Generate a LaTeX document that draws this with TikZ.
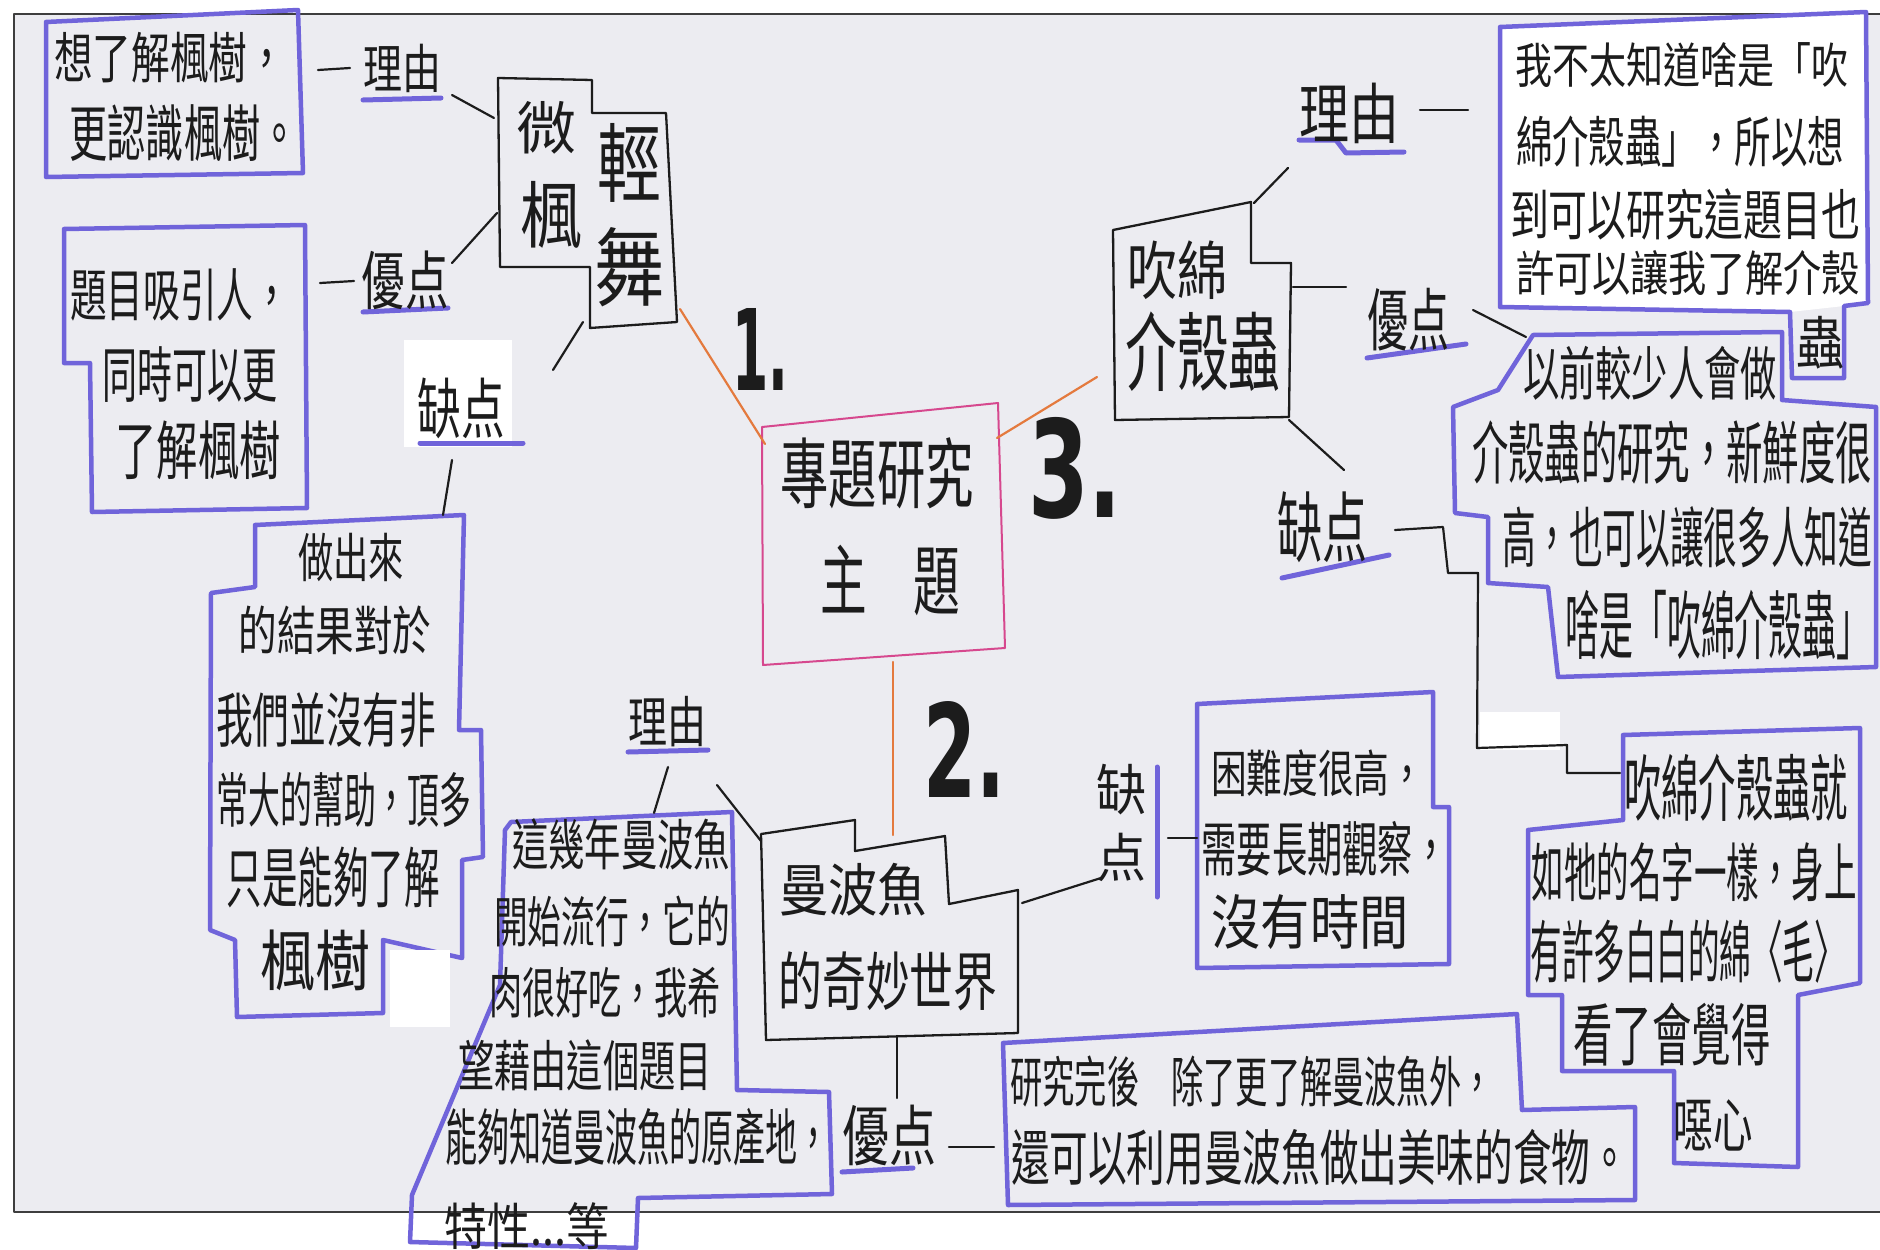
\documentclass[tikz,border=0pt]{standalone}
\usepackage{fontspec}
\newfontfamily\cjk{Noto Sans CJK TC}
\newfontfamily\numf{DejaVu Sans}
\definecolor{bgc}{RGB}{236,236,241}
\definecolor{bluem}{RGB}{112,100,218}
\definecolor{ink}{RGB}{28,28,28}
\definecolor{orng}{RGB}{228,122,62}
\definecolor{pnk}{RGB}{214,72,142}
\newlength\hwh
\newcommand\hw[3]{\setlength\hwh{#2pt}\resizebox*{#1pt}{1.1\hwh}{\fontsize{50pt}{50pt}\selectfont\cjk\rule[-0.12em]{0pt}{1em}#3}}
\newcommand\nm[3]{\resizebox*{#1pt}{#2pt}{\fontsize{60pt}{60pt}\selectfont\numf\bfseries #3}}
\begin{document}
\begin{tikzpicture}[x=1pt,y=-1pt,line join=round,line cap=round,
  blk/.style={draw=ink,line width=2.3pt},
  blu/.style={draw=bluem,line width=4.5pt},
  con/.style={draw=ink,line width=2.2pt},
  ora/.style={draw=orng,line width=2.2pt},
  und/.style={draw=bluem,line width=5pt},
  txt/.style={inner sep=0pt,text=ink}]
\useasboundingbox (0,0) rectangle (1880,1250);
\fill[white] (0,0) rectangle (1880,1250);
\fill[bgc] (14,14) rectangle (1880,1212);
\draw[draw=ink!85,line width=2.5pt] (1880,14) -- (14,14) -- (14,1212) -- (1880,1212);
% white patches
\fill[white] (404,340) rectangle (512,447);
\fill[white] (1480,712) rectangle (1560,750);
\fill[white] (1500,27) -- (1866,12) -- (1868,303) -- (1844,306) -- (1790,312) -- (1500,307) -- cycle;
% blue boxes
\draw[blu] (46,22) -- (298,10) -- (303,173) -- (46,177) -- cycle;
\draw[blu] (64,229) -- (305,225) -- (307,508) -- (92,512) -- (90,363) -- (64,363) -- cycle;
\draw[blu] (255,525) -- (464,515) -- (459,730) -- (481,730) -- (483,857) -- (462,860) -- (462,958) -- (383,940) -- (383,1013) -- (237,1017) -- (235,940) -- (210,930) -- (211,593) -- (255,587) -- cycle;
\draw[blu] (511,822) -- (732,812) -- (737,1090) -- (829,1092) -- (832,1194) -- (638,1198) -- (636,1248) -- (410,1242) -- (412,1195) -- (500,985) -- (505,830) -- cycle;
\draw[blu] (1003,1043) -- (1517,1014) -- (1522,1110) -- (1635,1107) -- (1635,1200) -- (1008,1205) -- cycle;
\draw[blu] (1197,704) -- (1433,692) -- (1433,807) -- (1449,807) -- (1449,964) -- (1197,968) -- cycle;
\draw[blu] (1500,27) -- (1866,12) -- (1868,303) -- (1844,306) -- (1844,378) -- (1792,378) -- (1790,312) -- (1500,307) -- cycle;
\draw[blu] (1533,335) -- (1782,332) -- (1782,400) -- (1876,407) -- (1876,667) -- (1558,677) -- (1548,587) -- (1488,583) -- (1488,517) -- (1455,513) -- (1453,407) -- (1498,390) -- cycle;
\draw[blu] (1623,735) -- (1860,728) -- (1860,983) -- (1798,995) -- (1798,1167) -- (1674,1163) -- (1674,1071) -- (1562,1071) -- (1562,995) -- (1528,995) -- (1528,830) -- (1623,820) -- cycle;
\fill[white] (390,950) rectangle (450,1027);
% black topic boxes
\draw[blk] (498,78) -- (592,80) -- (592,113) -- (666,113) -- (677,322) -- (590,328) -- (590,267) -- (500,267) -- cycle;
\draw[blk] (761,834) -- (855,820) -- (855,851) -- (945,836) -- (949,904) -- (1018,890) -- (1018,1033) -- (766,1040) -- cycle;
\draw[blk] (1113,230) -- (1251,202) -- (1251,263) -- (1291,263) -- (1289,417) -- (1115,420) -- cycle;
\draw[draw=pnk,line width=2pt] (762,427) -- (998,403) -- (1005,648) -- (763,665) -- cycle;
% attach points
\coordinate (aR1) at (318,70);  \coordinate (bR1) at (350,68);
\coordinate (aY1) at (320,283); \coordinate (bY1) at (354,281);
\coordinate (eR1) at (452,95);  \coordinate (n1a1) at (494,118);
\coordinate (eY1) at (452,263); \coordinate (n1a2) at (497,213);
\coordinate (n1a3) at (583,322); \coordinate (eQ1) at (553,370);
\coordinate (eQ1b) at (452,460); \coordinate (cTop) at (443,515);
\coordinate (n1o) at (680,309); \coordinate (cmL) at (765,444);
\coordinate (cmB) at (893,662); \coordinate (n2o) at (893,835);
\coordinate (cmR) at (997,438); \coordinate (n3o) at (1097,377);
\coordinate (n2a1) at (761,841); \coordinate (eR2) at (717,785);
\coordinate (eR2b) at (668,767); \coordinate (dTop) at (654,813);
\coordinate (n2a2) at (1022,903); \coordinate (eQ2) at (1101,878);
\coordinate (aQ2) at (1168,838); \coordinate (f1L) at (1197,838);
\coordinate (n2a3) at (897,1036); \coordinate (eY2) at (897,1098);
\coordinate (aY2) at (949,1147); \coordinate (eL) at (994,1147);
\coordinate (n3a1) at (1254,203); \coordinate (eR3) at (1288,168);
\coordinate (aR3) at (1420,110); \coordinate (g1L) at (1468,110);
\coordinate (n3a2) at (1293,287); \coordinate (eY3) at (1346,287);
\coordinate (aY3) at (1473,310); \coordinate (g2L) at (1526,337);
\coordinate (n3a3) at (1289,420); \coordinate (eQ3) at (1344,470);
\coordinate (aQ3) at (1395,530); \coordinate (f2L) at (1620,773);
% connectors
\draw[con] (aR1) -- (bR1);
\draw[con] (aY1) -- (bY1);
\draw[con] (eR1) -- (n1a1);
\draw[con] (eY1) -- (n1a2);
\draw[con] (n1a3) -- (eQ1);
\draw[con] (eQ1b) -- (cTop);
\draw[ora] (n1o) -- (cmL);
\draw[ora] (cmB) -- (n2o);
\draw[ora] (cmR) -- (n3o);
\draw[con] (n2a1) -- (eR2);
\draw[con] (eR2b) -- (dTop);
\draw[con] (n2a2) -- (eQ2);
\draw[con] (aQ2) -- (f1L);
\draw[con] (n2a3) -- (eY2);
\draw[con] (aY2) -- (eL);
\draw[con] (n3a1) -- (eR3);
\draw[con] (aR3) -- (g1L);
\draw[con] (n3a2) -- (eY3);
\draw[con] (aY3) -- (g2L);
\draw[con] (n3a3) -- (eQ3);
\draw[con] (aQ3) -- (1443,527) -- (1448,573) -- (1478,573) -- (1477,748) -- (1567,745) -- (1567,773) -- (f2L);
% underlines
\draw[und] (363,100) -- (441,98);
\draw[und] (363,312) -- (448,308);
\draw[und] (420,443) -- (523,443);
\draw[und] (628,752) -- (708,750);
\draw[und] (842,1172) -- (913,1168);
\draw[und] (1157,767) -- (1157,897);
\draw[und] (1299,140) -- (1336,140) -- (1346,153) -- (1404,152);
\draw[und] (1367,358) -- (1466,344);
\draw[und] (1282,578) -- (1389,555);
% texts
\node[txt] (tA1) at (170,58) {\hw{232}{50}{想了解楓樹，}};
\node[txt] (tA2) at (184,133) {\hw{229}{56}{更認識楓樹。}};
\node[txt] (tB1) at (180,295) {\hw{220}{52}{題目吸引人，}};
\node[txt] (tB2) at (190,375) {\hw{175}{55}{同時可以更}};
\node[txt] (tB3) at (198,450) {\hw{165}{58}{了解楓樹}};
\node[txt] (lR1) at (402,68) {\hw{78}{48}{理由}};
\node[txt] (lY1) at (405,280) {\hw{87}{58}{優点}};
\node[txt] (lQ1) at (461,408) {\hw{87}{60}{缺点}};
\node[txt] (n1t1) at (546,128) {\hw{60}{52}{微}};
\node[txt] (n1t2) at (551,215) {\hw{62}{66}{楓}};
\node[txt] (n1t3) at (629,163) {\hw{64}{78}{輕}};
\node[txt] (n1t4) at (629,267) {\hw{70}{78}{舞}};
\node[txt] (tC1) at (351,557) {\hw{106}{48}{做出來}};
\node[txt] (tC2) at (335,630) {\hw{193}{48}{的結果對於}};
\node[txt] (tC3) at (326,720) {\hw{220}{54}{我們並沒有非}};
\node[txt] (tC4) at (344,800) {\hw{255}{54}{常大的幫助，頂多}};
\node[txt] (tC5) at (333,877) {\hw{213}{60}{只是能夠了解}};
\node[txt] (tC6) at (315,960) {\hw{110}{60}{楓樹}};
\node[txt] (tM1) at (877,473) {\hw{193}{70}{專題研究}};
\node[txt] (tM2) at (890,580) {\hw{140}{70}{主　題}};
\node[txt] (num1) at (760,349) {\nm{56}{82}{1.}};
\node[txt] (num2) at (964,749) {\nm{82}{96}{2.}};
\node[txt] (num3) at (1075,468) {\nm{94}{102}{3.}};
\node[txt] (n2t1) at (853,890) {\hw{148}{52}{曼波魚}};
\node[txt] (n2t2) at (888,981) {\hw{219}{58}{的奇妙世界}};
\node[txt] (lR2) at (667,722) {\hw{78}{50}{理由}};
\node[txt] (tD1) at (621,845) {\hw{218}{50}{這幾年曼波魚}};
\node[txt] (tD2) at (612,922) {\hw{236}{50}{開始流行，它的}};
\node[txt] (tD3) at (605,993) {\hw{232}{50}{肉很好吃，我希}};
\node[txt] (tD4) at (585,1066) {\hw{254}{50}{望藉由這個題目}};
\node[txt] (tD5) at (637,1137) {\hw{384}{56}{能夠知道曼波魚的原產地，}};
\node[txt] (tD6) at (527,1226) {\hw{165}{46}{特性...等}};
\node[txt] (lY2) at (889,1135) {\hw{94}{60}{優点}};
\node[txt] (tE1) at (1252,1082) {\hw{483}{50}{研究完後　除了更了解曼波魚外，}};
\node[txt] (tE2) at (1320,1157) {\hw{618}{55}{還可以利用曼波魚做出美味的食物。}};
\node[txt] (lQ2a) at (1121,790) {\hw{50}{50}{缺}};
\node[txt] (lQ2b) at (1121,857) {\hw{50}{48}{点}};
\node[txt] (tF1) at (1318,773) {\hw{214}{46}{困難度很高，}};
\node[txt] (tF2) at (1325,849) {\hw{247}{54}{需要長期觀察，}};
\node[txt] (tF3) at (1310,922) {\hw{197}{54}{沒有時間}};
\node[txt] (n3t1) at (1177,270) {\hw{100}{58}{吹綿}};
\node[txt] (n3t2) at (1203,352) {\hw{155}{78}{介殼蟲}};
\node[txt] (lR3) at (1349,113) {\hw{100}{60}{理由}};
\node[txt] (lY3) at (1408,320) {\hw{82}{62}{優点}};
\node[txt] (lQ3) at (1322,527) {\hw{90}{70}{缺点}};
\node[txt] (g1) at (1682,65) {\hw{333}{44}{我不太知道啥是「吹}};
\node[txt] (g2) at (1680,142) {\hw{328}{50}{綿介殼蟲」，所以想}};
\node[txt] (g3) at (1685,215) {\hw{350}{50}{到可以研究這題目也}};
\node[txt] (g4) at (1688,273) {\hw{344}{44}{許可以讓我了解介殼}};
\node[txt] (g5) at (1820,343) {\hw{48}{52}{蟲}};
\node[txt] (h1) at (1650,373) {\hw{254}{53}{以前較少人會做}};
\node[txt] (h2) at (1672,453) {\hw{400}{62}{介殼蟲的研究，新鮮度很}};
\node[txt] (h3) at (1687,537) {\hw{370}{60}{高，也可以讓很多人知道}};
\node[txt] (h4) at (1718,625) {\hw{305}{68}{啥是「吹綿介殼蟲」}};
\node[txt] (f1) at (1736,788) {\hw{224}{66}{吹綿介殼蟲就}};
\node[txt] (f2) at (1694,872) {\hw{325}{58}{如牠的名字一樣，身上}};
\node[txt] (f3) at (1688,952) {\hw{315}{62}{有許多白白的綿〈毛〉}};
\node[txt] (f4) at (1672,1035) {\hw{197}{62}{看了會覺得}};
\node[txt] (f5) at (1713,1125) {\hw{79}{54}{噁心}};
\end{tikzpicture}
\end{document}
